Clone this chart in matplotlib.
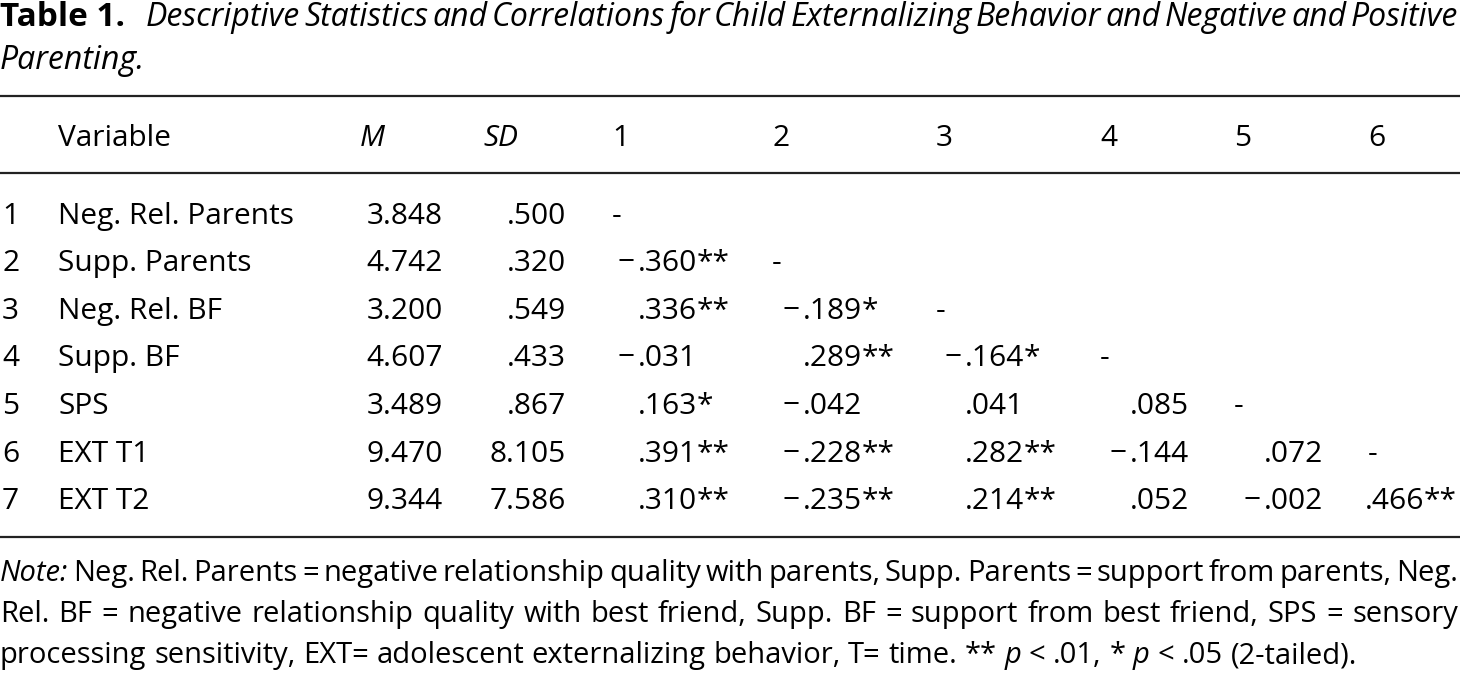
import matplotlib
matplotlib.use("Agg")
import matplotlib.pyplot as plt

plt.rcParams['font.family'] = ['Open Sans', 'DejaVu Sans']

# table content
variables = ["Neg. Rel. Parents", "Supp. Parents", "Neg. Rel. BF", "Supp. BF",
             "SPS", "EXT T1", "EXT T2"]
means = ["3.848", "4.742", "3.200", "4.607", "3.489", "9.470", "9.344"]
sds = [".500", ".320", ".549", ".433", ".867", "8.105", "7.586"]
corrs = [
    [],
    [-.360],
    [.336, -.189],
    [-.031, .289, -.164],
    [.163, -.042, .041, .085],
    [.391, -.228, .282, -.144, .072],
    [.310, -.235, .214, .052, -.002, .466],
]
stars = [
    [],
    ["**"],
    ["**", "*"],
    ["", "**", "*"],
    ["*", "", "", ""],
    ["**", "**", "**", "", ""],
    ["**", "**", "**", "", "", "**"],
]
col_labels = ["1", "2", "3", "4", "5", "6"]

title_bold = "Table 1."
title_text = ("Descriptive Statistics and Correlations for Child Externalizing "
              "Behavior and Negative and Positive Parenting.")
note_lines = [
    "Note: Neg. Rel. Parents = negative relationship quality with parents, "
    "Supp. Parents = support from parents, Neg.",
    "Rel. BF = negative relationship quality with best friend, "
    "Supp. BF = support from best friend, SPS = sensory",
    "processing sensitivity, EXT= adolescent externalizing behavior, "
    "T= time. ** p < .01, * p < .05 (2-tailed).",
]

W, H = 1460, 674
FS = 21.5
TFS = 23
fig = plt.figure(figsize=(W / 100, H / 100), dpi=100)
ax = fig.add_axes([0, 0, 1, 1])
ax.set_xlim(0, W)
ax.set_ylim(H, 0)
ax.axis('off')
renderer = fig.canvas.get_renderer()


def width(s, **kw):
    t = ax.text(0, 0, s, fontsize=kw.get('fontsize', FS),
                fontstyle=kw.get('fontstyle', 'normal'),
                fontweight=kw.get('fontweight', 'normal'))
    w = t.get_window_extent(renderer).width
    t.remove()
    return w


def place_words(words, y, x0, x1, justify=True, styles=None, fs=FS):
    styles = styles or ['normal'] * len(words)
    ws = [width(w, fontstyle=s, fontsize=fs) for w, s in zip(words, styles)]
    if justify:
        gap = (x1 - x0 - sum(ws)) / (len(words) - 1)
    else:
        gap = width("a b", fontsize=fs) - width("ab", fontsize=fs)
    x = x0
    for w, s, wd in zip(words, styles, ws):
        ax.text(x, y, w, fontsize=fs, fontstyle=s, va='baseline', ha='left')
        x += wd + gap


# title
ax.text(0, 26, title_bold, fontsize=24, fontweight='bold', va='baseline')
twords = title_text.split()
line1 = twords[:-1]
place_words(line1, 26, 146, 1458, styles=['italic'] * len(line1), fs=TFS)
ax.text(0, 69, twords[-1], fontsize=TFS, fontstyle='italic', va='baseline')

# rules
ax.hlines([96, 173, 537], 0, W, color='#222222', lw=1.6)

# header
hy = 146
ax.text(58, hy, "Variable", fontsize=FS, va='baseline')
ax.text(360, hy, "M", fontsize=FS, fontstyle='italic', va='baseline')
ax.text(483, hy, "SD", fontsize=FS, fontstyle='italic', va='baseline')
col_x = [612, 772, 936, 1100, 1234, 1368]
num_end = [697, 862, 1024, 1189, 1323, 1424]
for lab, x in zip(col_labels, col_x):
    ax.text(x, hy, lab, fontsize=FS, va='baseline')

# rows
row_y = [224, 271, 319, 366, 414, 462, 509]
for i, y in enumerate(row_y):
    ax.text(2, y, str(i + 1), fontsize=FS, va='baseline')
    ax.text(58, y, variables[i], fontsize=FS, va='baseline')
    ax.text(443, y, means[i], fontsize=FS, va='baseline', ha='right')
    ax.text(566, y, sds[i], fontsize=FS, va='baseline', ha='right')
    for j, (v, st) in enumerate(zip(corrs[i], stars[i])):
        num = f"{abs(v):.3f}"[1:]
        ax.text(num_end[j], y, num, fontsize=FS, va='baseline', ha='right')
        if v < 0:
            # wide minus sign set a little apart from the digits
            nw = width(num)
            ax.text(num_end[j] - nw - 3, y, "\u2212", fontsize=FS,
                    va='baseline', ha='right')
        if st:
            ax.text(num_end[j], y, st, fontsize=FS, va='baseline', ha='left')
    if i < len(col_x):
        ax.text(col_x[i], y, "-", fontsize=FS, va='baseline')

# note
note_y = [581, 622, 663]
for k, (line, y) in enumerate(zip(note_lines, note_y)):
    words = line.split()
    st = ['italic' if (w == "Note:" or w == "p") else 'normal' for w in words]
    place_words(words, y, 0, 1458, justify=(k < 2), styles=st, fs=21)

fig.savefig("out.png", dpi=100)
